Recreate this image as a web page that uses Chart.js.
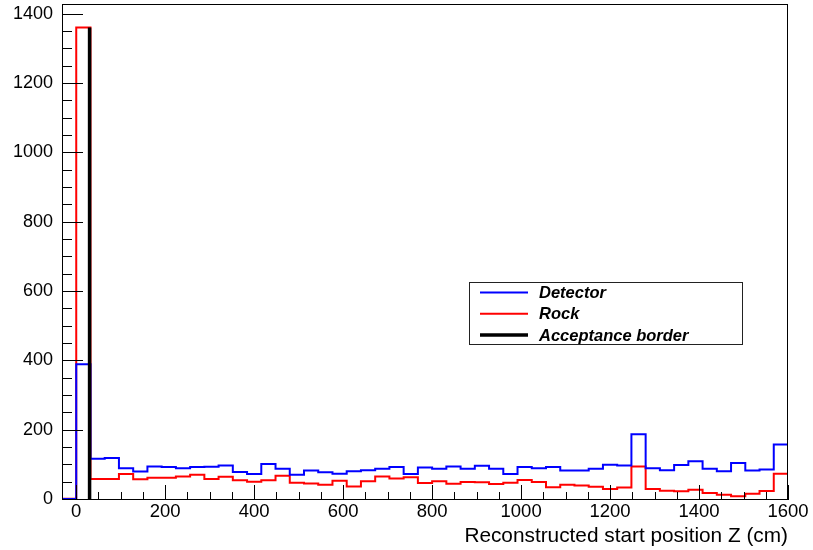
<!DOCTYPE html>
<html>
<head>
<meta charset="utf-8">
<script src="https://cdn.jsdelivr.net/npm/chart.js@4.4.0/dist/chart.umd.min.js"></script>
<style>
  html, body { margin: 0; padding: 0; background: #fff; }
  #wrap { width: 813px; height: 550px; }
</style>
</head>
<body>
<div id="wrap"><canvas id="zChart" width="813" height="550"></canvas></div>
<script>
// bin edges of the histogram (cm), 51 bins of 32 cm
const binEdges = [-32, 0, 32, 64, 96, 128, 160, 192, 224, 256, 288, 320, 352, 384, 416,
  448, 480, 512, 544, 576, 608, 640, 672, 704, 736, 768, 800, 832, 864, 896, 928, 960,
  992, 1024, 1056, 1088, 1120, 1152, 1184, 1216, 1248, 1280, 1312, 1344, 1376, 1408,
  1440, 1472, 1504, 1536, 1568, 1600];

const detectorCounts = [0, 389, 116, 118, 89, 79, 94, 92, 89, 92, 93, 97, 78, 72, 101,
  87, 70, 82, 77, 73, 80, 83, 87, 92, 72, 91, 87, 94, 87, 96, 87, 72, 92, 89, 92, 82,
  82, 87, 99, 97, 187, 89, 83, 98, 109, 87, 80, 104, 82, 85, 157];

const rockCounts = [1, 1360, 58, 58, 72, 57, 61, 61, 65, 70, 58, 64, 54, 50, 54, 67,
  47, 45, 41, 53, 36, 51, 65, 59, 63, 46, 51, 44, 49, 48, 43, 47, 55, 49, 34, 41, 39,
  35, 29, 33, 94, 29, 24, 22, 27, 17, 12, 8, 15, 23, 73];

const acceptanceZ = 30;
const acceptanceTop = 1360;

const xTicks = [0, 200, 400, 600, 800, 1000, 1200, 1400, 1600];
const yTicks = [0, 200, 400, 600, 800, 1000, 1200, 1400];

const FONT = "'Liberation Sans', Arial, Helvetica, sans-serif";

function histPoints(counts) {
  const pts = counts.map((c, i) => ({ x: binEdges[i], y: c }));
  pts.push({ x: binEdges[binEdges.length - 1], y: counts[counts.length - 1] });
  return pts;
}

// ROOT style frame with ticks pointing inwards
const rootFrame = {
  id: "rootFrame",
  afterDatasetsDraw(chart) {
    const { ctx, chartArea: a, scales } = chart;
    ctx.save();
    ctx.strokeStyle = "#000";
    ctx.lineWidth = 1;
    ctx.strokeRect(a.left + 0.5, a.top + 0.5, a.right - a.left - 1, a.bottom - a.top);
    ctx.beginPath();
    for (let v = 0; v <= 1600; v += 50) {
      const px = Math.round(scales.x.getPixelForValue(v)) + 0.5;
      const len = v % 200 === 0 ? 14 : 7;
      ctx.moveTo(px, a.bottom);
      ctx.lineTo(px, a.bottom - len);
    }
    for (let v = 0; v <= 1400; v += 50) {
      const py = Math.round(scales.y.getPixelForValue(v)) + 0.5;
      const len = v % 200 === 0 ? 21 : 10;
      ctx.moveTo(a.left, py);
      ctx.lineTo(a.left + len, py);
    }
    ctx.stroke();

    // legend box
    const bx = 469.5, by = 282.5, bw = 273, bh = 62;
    ctx.fillStyle = "#fff";
    ctx.fillRect(bx, by, bw, bh);
    ctx.strokeStyle = "#222";
    ctx.strokeRect(bx, by, bw, bh);
    ctx.font = "italic bold 16.5px " + FONT;
    ctx.textBaseline = "middle";
    ctx.textAlign = "left";
    chart.data.datasets.forEach((ds, i) => {
      const y = 292.5 + i * 21.3;
      ctx.strokeStyle = ds.borderColor;
      ctx.lineWidth = ds.legendWidth;
      ctx.beginPath();
      ctx.moveTo(480, y);
      ctx.lineTo(528, y);
      ctx.stroke();
      ctx.fillStyle = "#000";
      ctx.fillText(ds.label, 539, y + 1);
    });
    ctx.restore();
  }
};

const ctx = document.getElementById("zChart").getContext("2d");
const zChart = new Chart(ctx, {
  type: "line",
  data: {
    datasets: [
      {
        label: "Detector",
        data: histPoints(detectorCounts),
        borderColor: "#0000ff",
        borderWidth: 2,
        legendWidth: 2,
        stepped: true,
        pointRadius: 0,
        fill: false,
        order: 1,
      },
      {
        label: "Rock",
        data: histPoints(rockCounts),
        borderColor: "#ff0000",
        borderWidth: 2,
        legendWidth: 2,
        stepped: true,
        pointRadius: 0,
        fill: false,
        order: 2,
      },
      {
        label: "Acceptance border",
        data: [{ x: acceptanceZ, y: 0 }, { x: acceptanceZ, y: acceptanceTop }],
        borderColor: "#000000",
        borderWidth: 3.5,
        legendWidth: 3.5,
        pointRadius: 0,
        fill: false,
        order: 0,
      },
    ],
  },
  options: {
    responsive: false,
    animation: false,
    devicePixelRatio: 1,
    layout: { padding: { top: 4, right: 25, left: 0, bottom: 0 } },
    plugins: {
      legend: { display: false },
      tooltip: { enabled: false },
    },
    scales: {
      x: {
        type: "linear",
        min: -32,
        max: 1600,
        afterBuildTicks: (s) => { s.ticks = xTicks.map((v) => ({ value: v })); },
        afterFit: (s) => {
          s.height = 51;
          s.paddingLeft = 0; s.paddingRight = 0; s.paddingTop = 0; s.paddingBottom = 0;
        },
        grid: { display: false, drawTicks: false },
        border: { display: true, color: "#000", width: 1 },
        ticks: {
          color: "#000",
          padding: 2,
          maxRotation: 0,
          autoSkip: false,
          font: { family: FONT, size: 18.5 },
          callback: (v) => String(v),
        },
        title: {
          display: true,
          text: "Reconstructed start position Z (cm)",
          align: "end",
          color: "#000",
          padding: { top: 0, bottom: 1 },
          font: { family: FONT, size: 20.8 },
        },
      },
      y: {
        min: 0,
        max: 1428,
        afterBuildTicks: (s) => { s.ticks = yTicks.map((v) => ({ value: v })); },
        afterFit: (s) => {
          s.width = 62;
          s.paddingLeft = 0; s.paddingRight = 0; s.paddingTop = 0; s.paddingBottom = 0;
        },
        grid: { display: false, drawTicks: false },
        border: { display: true, color: "#000", width: 1 },
        ticks: {
          color: "#000",
          padding: 9,
          font: { family: FONT, size: 18 },
          callback: (v) => String(v),
        },
      },
    },
  },
  plugins: [rootFrame],
});
</script>
</body>
</html>
